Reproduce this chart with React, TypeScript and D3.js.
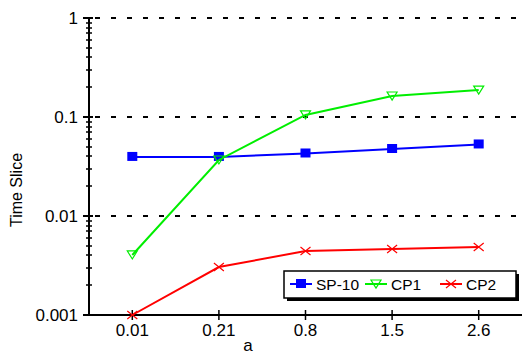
import React, { useEffect, useRef } from "react";
import * as d3 from "d3";

const categories = ["0.01", "0.21", "0.8", "1.5", "2.6"];
const sp10 = [0.0395, 0.0395, 0.0428, 0.0475, 0.0528];
const cp1 = [0.00404, 0.0368, 0.105, 0.163, 0.187];
const cp2 = [0.001, 0.00305, 0.00443, 0.00464, 0.00486];
const yTicks = [0.001, 0.01, 0.1, 1];
const yTickLabels = ["0.001", "0.01", "0.1", "1"];

const W = 523;
const H = 355;
const left = 89;
const right = 522;
const top = 18;
const bottom = 315;
const font = "Arial, 'Liberation Sans', sans-serif";

export default function App() {
	const ref = useRef<SVGSVGElement>(null);

	useEffect(() => {
		const svg = d3.select(ref.current);
		svg.selectAll("*").remove();

		const x = d3.scaleBand().domain(categories).range([left, right]);
		const xc = (c: string) => (x(c) as number) + x.bandwidth() / 2;
		const y = d3.scaleLog().domain([0.001, 1]).range([bottom, top]);

		// dashed grid lines at each decade
		svg
			.selectAll("line.grid")
			.data(yTicks.slice(1))
			.enter()
			.append("line")
			.attr("x1", left)
			.attr("x2", right)
			.attr("y1", (d) => y(d))
			.attr("y2", (d) => y(d))
			.attr("stroke", "#000")
			.attr("stroke-width", 2)
			.attr("stroke-dasharray", "5,11")
			.attr("stroke-dashoffset", -6);

		// minor ticks
		const minor: number[] = [];
		[0.001, 0.01, 0.1].forEach((dec) => {
			for (let k = 2; k <= 9; k++) minor.push(dec * k);
		});
		svg
			.selectAll("line.minor")
			.data(minor)
			.enter()
			.append("line")
			.attr("x1", left - 3)
			.attr("x2", left + 3)
			.attr("y1", (d) => Math.round(y(d)))
			.attr("y2", (d) => Math.round(y(d)))
			.attr("stroke", "#000")
			.attr("stroke-width", 1.5);

		// major y ticks
		svg
			.selectAll("line.major")
			.data(yTicks)
			.enter()
			.append("line")
			.attr("x1", left - 6)
			.attr("x2", left + 4)
			.attr("y1", (d) => y(d))
			.attr("y2", (d) => y(d))
			.attr("stroke", "#000")
			.attr("stroke-width", 2);

		svg
			.selectAll("text.ylab")
			.data(yTicks)
			.enter()
			.append("text")
			.attr("x", left - 11)
			.attr("y", (d) => y(d) + 6)
			.attr("text-anchor", "end")
			.attr("font-family", font)
			.attr("font-size", 17)
			.text((d, i) => yTickLabels[i]);

		// axes lines
		svg
			.append("line")
			.attr("x1", left)
			.attr("x2", left)
			.attr("y1", top)
			.attr("y2", bottom + 1)
			.attr("stroke", "#000")
			.attr("stroke-width", 2);
		svg
			.append("line")
			.attr("x1", left - 1)
			.attr("x2", right)
			.attr("y1", bottom)
			.attr("y2", bottom)
			.attr("stroke", "#000")
			.attr("stroke-width", 2);

		// x ticks
		svg
			.selectAll("line.xt")
			.data(categories)
			.enter()
			.append("line")
			.attr("x1", (d) => xc(d))
			.attr("x2", (d) => xc(d))
			.attr("y1", bottom - 5)
			.attr("y2", bottom + 5)
			.attr("stroke", "#000")
			.attr("stroke-width", 1.5);
		svg
			.selectAll("text.xlab")
			.data(categories)
			.enter()
			.append("text")
			.attr("x", (d) => xc(d))
			.attr("y", bottom + 21)
			.attr("text-anchor", "middle")
			.attr("font-family", font)
			.attr("font-size", 17)
			.text((d) => d);

		svg
			.append("text")
			.attr("x", 248)
			.attr("y", 351)
			.attr("text-anchor", "middle")
			.attr("font-family", font)
			.attr("font-size", 17)
			.text("a");
		svg
			.append("text")
			.attr("transform", "translate(22,190) rotate(-90)")
			.attr("text-anchor", "middle")
			.attr("font-family", font)
			.attr("font-size", 16)
			.text("Time Slice");

		const line = d3
			.line<number>()
			.x((d, i) => xc(categories[i]))
			.y((d) => y(d));

		const series = [
			{ name: "SP-10", values: sp10, color: "#0000ff", marker: "square" },
			{ name: "CP1", values: cp1, color: "#00ee00", marker: "tri" },
			{ name: "CP2", values: cp2, color: "#ff0000", marker: "cross" },
		];

		const drawMarker = (g: any, cx: number, cy: number, s: any) => {
			if (s.marker === "square") {
				g.append("rect")
					.attr("x", cx - 5)
					.attr("y", cy - 5)
					.attr("width", 10)
					.attr("height", 9)
					.attr("fill", s.color);
			} else if (s.marker === "tri") {
				g.append("path")
					.attr("d", `M${cx - 5},${cy - 4}L${cx + 5},${cy - 4}L${cx},${cy + 4}Z`)
					.attr("fill", "none")
					.attr("stroke", s.color)
					.attr("stroke-width", 1.2);
			} else {
				g.append("path")
					.attr("d", `M${cx - 5},${cy - 4}L${cx + 5},${cy + 4}M${cx - 5},${cy + 4}L${cx + 5},${cy - 4}`)
					.attr("stroke", s.color)
					.attr("stroke-width", 1.2);
			}
		};

		series.forEach((s) => {
			svg
				.append("path")
				.datum(s.values)
				.attr("d", line)
				.attr("fill", "none")
				.attr("stroke", s.color)
				.attr("stroke-width", 2);
			const g = svg.append("g");
			s.values.forEach((v, i) => drawMarker(g, xc(categories[i]), y(v), s));
		});

		// legend
		const lx = 284;
		const ly = 271;
		const lw = 232;
		const lh = 27;
		svg
			.append("rect")
			.attr("x", lx + 3)
			.attr("y", ly + 3)
			.attr("width", lw)
			.attr("height", lh)
			.attr("fill", "#000");
		svg
			.append("rect")
			.attr("x", lx)
			.attr("y", ly)
			.attr("width", lw)
			.attr("height", lh)
			.attr("fill", "#fff")
			.attr("stroke", "#000")
			.attr("stroke-width", 1.5);
		const offs = [6, 81, 156];
		series.forEach((s, i) => {
			const x0 = lx + offs[i];
			const cy = ly + 13;
			svg
				.append("line")
				.attr("x1", x0)
				.attr("x2", x0 + 22)
				.attr("y1", cy)
				.attr("y2", cy)
				.attr("stroke", s.color)
				.attr("stroke-width", 2);
			drawMarker(svg.append("g"), x0 + 11, cy, s);
			svg
				.append("text")
				.attr("x", x0 + 26)
				.attr("y", cy + 6)
				.attr("font-family", font)
				.attr("font-size", 15.5)
				.text(s.name);
		});
	}, []);

	return (
		<svg
			ref={ref}
			width={W}
			height={H}
			style={{ position: "absolute", left: 0, top: 0, background: "#fff" }}
		/>
	);
}
